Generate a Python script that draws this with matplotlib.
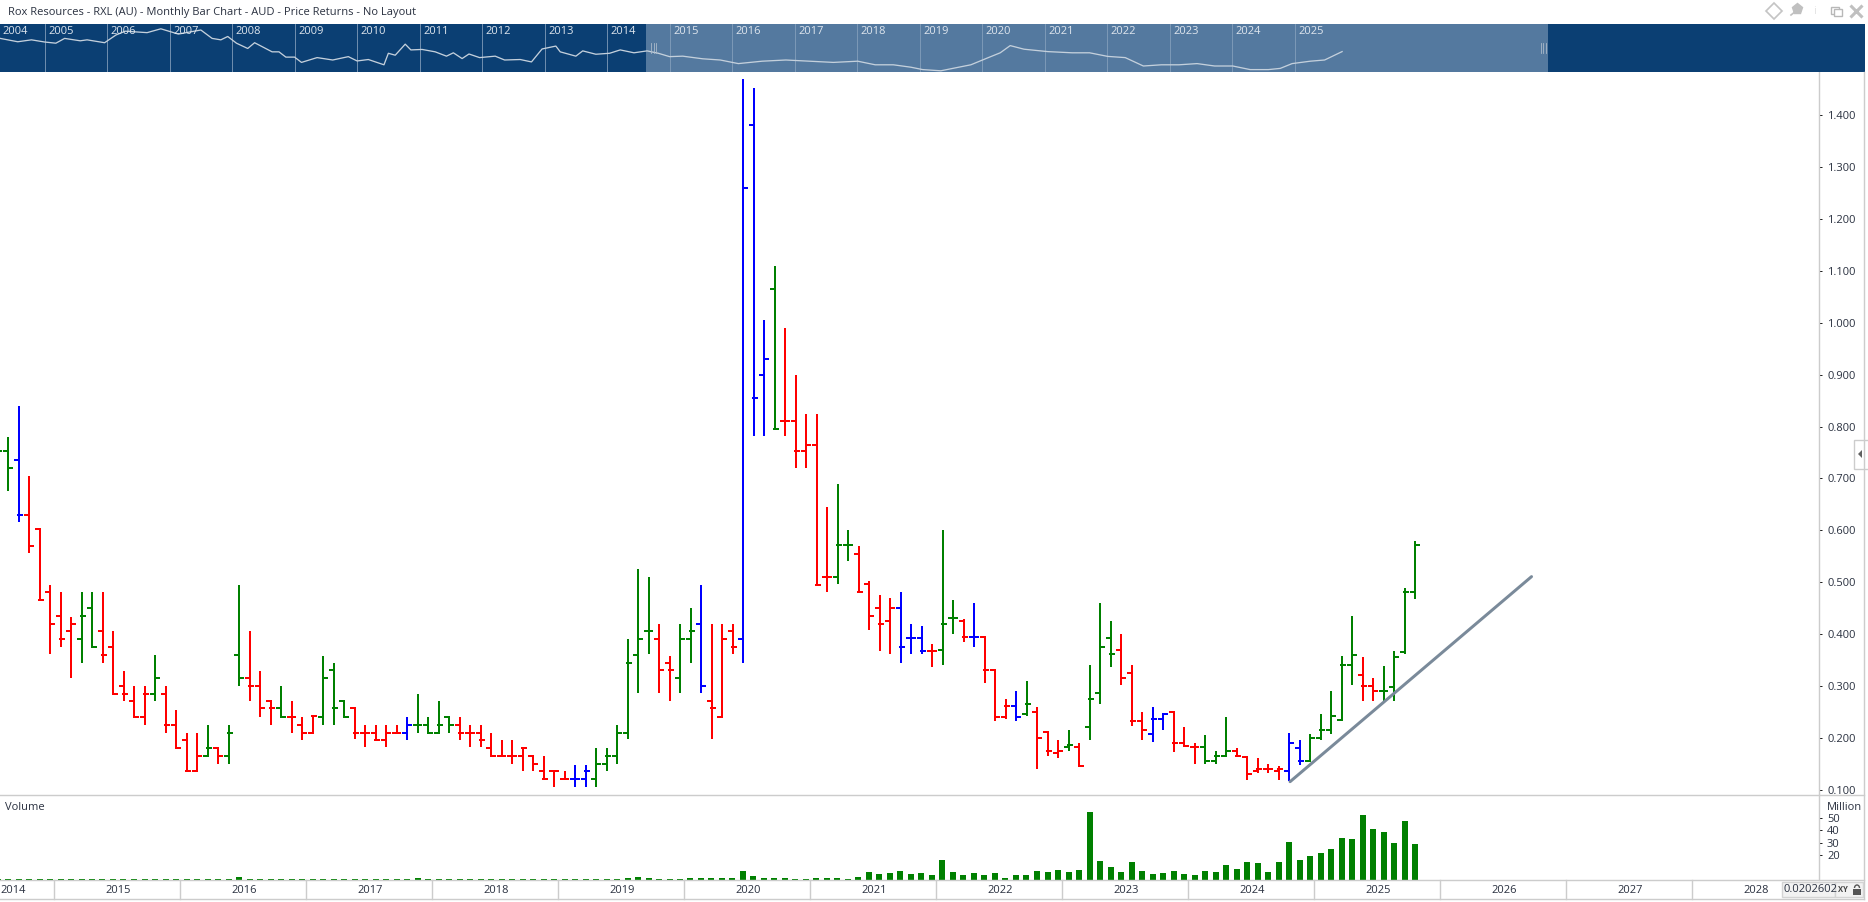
import matplotlib
matplotlib.use("Agg")
import matplotlib.pyplot as plt
from matplotlib.patches import Rectangle, Arc, Polygon
import numpy as np

plt.rcParams['font.family'] = ['Open Sans', 'DejaVu Sans']

TITLE = "Rox Resources - RXL (AU) - Monthly Bar Chart - AUD - Price Returns - No Layout"

# first visible stem is month index 0 (Aug 2014); index -1 only shows its close tick
opens = [.752,
 .752,.736,.630,.602,.481,.435,.406,.391,.450,.406,.376,.300,.271,.241,.285,.285,.226,.196,.137,.166,
 .181,.166,.360,.316,.300,.272,.257,.241,.226,.210,.241,.332,.272,.257,.210,.210,.196,.210,.210,.226,
 .226,.210,.241,.226,.210,.210,.181,.165,.165,.165,.165,.137,.137,.121,.121,.121,.121,.151,.165,.210,
 .360,.407,.391,.345,.316,.391,.420,.272,.241,.407,.391,1.380,.900,1.065,.811,.811,.752,.765,.511,.511,
 .571,.555,.496,.451,.426,.451,.392,.392,.367,.370,.432,.426,.395,.395,.332,.241,.261,.247,.251,.211,
 .172,.182,.182,.222,.286,.392,.370,.325,.232,.207,.236,.251,.191,.182,.182,.156,.166,.176,.163,.137,
 .141,.137,.137,.181,.156,.200,.216,.234,.341,.322,.300,.291,.298,.366,.482]
highs = [.780,
 .779,.840,.704,.602,.494,.481,.434,.481,.481,.481,.406,.330,.300,.300,.360,.300,.255,.210,.210,.225,
 .181,.225,.494,.406,.330,.272,.300,.271,.241,.242,.359,.344,.272,.257,.225,.225,.225,.225,.240,.284,
 .240,.271,.241,.240,.225,.225,.209,.196,.196,.181,.165,.165,.137,.137,.149,.149,.180,.180,.225,.390,
 .525,.510,.419,.359,.419,.450,.494,.419,.419,.419,1.4695,1.453,1.005,1.109,.989,.899,.824,.824,.645,.689,
 .600,.569,.502,.475,.469,.481,.419,.415,.381,.600,.465,.430,.460,.395,.332,.275,.290,.309,.259,.214,
 .196,.215,.190,.340,.460,.425,.400,.340,.250,.259,.249,.251,.221,.190,.205,.175,.240,.180,.164,.161,
 .150,.146,.209,.196,.207,.246,.290,.359,.435,.356,.315,.338,.367,.490,.579]
lows = [.700,
 .676,.617,.556,.466,.361,.376,.316,.345,.376,.345,.285,.272,.241,.226,.272,.210,.180,.135,.135,.166,
 .151,.151,.301,.272,.241,.226,.241,.210,.197,.210,.226,.226,.241,.198,.182,.196,.182,.210,.196,.210,
 .210,.210,.210,.196,.182,.182,.165,.165,.151,.137,.137,.121,.106,.121,.106,.106,.106,.137,.151,.198,
 .286,.361,.286,.272,.286,.345,.286,.198,.241,.361,.345,.781,.781,.795,.781,.721,.721,.495,.482,.496,
 .542,.481,.408,.367,.361,.345,.361,.361,.336,.341,.401,.386,.376,.307,.232,.236,.232,.242,.141,.166,
 .162,.176,.146,.197,.266,.336,.302,.223,.197,.192,.216,.173,.182,.151,.151,.151,.166,.163,.119,.132,
 .132,.119,.117,.148,.156,.197,.207,.234,.302,.272,.272,.270,.272,.361,.467]
closes = [.752,
 .721,.630,.570,.466,.420,.391,.420,.435,.376,.360,.285,.285,.241,.285,.316,.226,.180,.137,.166,.181,
 .166,.210,.316,.300,.257,.257,.241,.241,.210,.242,.316,.257,.241,.210,.210,.196,.210,.210,.226,.226,
 .210,.226,.226,.210,.210,.196,.165,.165,.165,.181,.151,.121,.137,.121,.121,.137,.151,.165,.210,.345,
 .391,.407,.332,.332,.391,.407,.300,.257,.391,.376,1.260,.855,.931,.796,.811,.752,.765,.495,.511,.571,
 .571,.481,.436,.420,.451,.376,.392,.367,.367,.420,.432,.395,.395,.332,.241,.261,.241,.266,.200,.176,
 .176,.186,.146,.276,.376,.361,.316,.232,.216,.236,.247,.191,.185,.182,.156,.166,.176,.166,.131,.141,
 .141,.141,.191,.156,.200,.216,.242,.341,.360,.300,.291,.291,.356,.481,.571]
bar_colours = ("g"
 "gbrrrrrggr" "rrrrgrrrrg" "rggrrrgrrr" "gggrrrrrbg" "gggrrrrrrr"
 "rrrrbbgggg" "ggrrggbrrr" "bbbgrrrrrg" "grrrrbbbrg" "grbrrrbgrr"
 "rgrgggrrrb" "brrrgggrrr" "rrbbgggggr" "rgggg")

volumes = [.8,
 .8,.8,.8,.8,.8,.8,.8,.8,.8,.8,.8,.8,.8,.8,.8,.8,.8,.8,.8,.8,
 .8,.8,2.4,.8,.8,.8,.8,.8,.8,.8,.8,.8,.8,.8,.8,.8,.8,.8,.8,1.5,
 .8,.8,.8,.8,.8,.8,.8,.8,.8,.8,.8,.8,.8,.8,.8,.8,.8,.8,.8,1.6,
 2.4,1.6,.8,.8,.8,1.6,1.6,1.6,1.6,1.6,7.3,3.2,1.6,1.6,1.6,.8,.8,1.6,1.6,1.6,
 .8,2.4,6.5,4.8,5.6,7.3,4.8,5.6,4.0,16.1,6.5,4.0,5.6,4.0,5.6,1.6,4.0,4.0,7.3,6.5,
 8.1,6.5,8.1,55.0,15.3,10.5,6.5,14.5,7.3,4.8,5.6,7.3,4.8,4.0,7.3,6.5,12.1,8.9,14.5,13.7,
 6.5,14.5,30.6,16.1,19.4,21.8,25.0,33.9,33.1,52.4,41.1,38.7,29.8,47.6,29.0]

trend_month = [122.1, 145.1]
trend_price = [0.116, 0.511]

overview_year = [2004.29,2004.57,2004.79,2005,2005.18,2005.32,2005.57,2005.68,2005.96,2006.14,2006.29,2006.64,
 2006.86,2007.14,2007.5,2007.68,2007.82,2007.93,2008.07,2008.25,2008.36,2008.64,2008.75,2008.86,2009,2009.11,
 2009.36,2009.61,2009.86,2010,2010.18,2010.43,2010.5,2010.61,2010.77,2010.86,2011.04,2011.25,2011.43,2011.54,
 2011.68,2011.79,2011.96,2012.21,2012.36,2012.61,2012.79,2012.96,2013.18,2013.25,2013.5,2013.61,2013.82,2014.04,
 2014.21,2014.43,2014.64,2014.82,2015,2015.21,2015.53,2015.81,2016.10,2016.48,2016.86,2017.24,2017.62,2018.01,
 2018.29,2018.58,2018.86,2019.05,2019.34,2019.53,2019.82,2020.10,2020.29,2020.45,2020.67,2021.05,2021.44,2021.72,
 2022.01,2022.29,2022.58,2022.87,2023.15,2023.44,2023.72,2024.01,2024.29,2024.58,2024.77,2024.96,2025.25,2025.48,2025.76]
overview_level = [.70,.63,.67,.625,.60,.70,.65,.67,.61,.77,.85,.82,.90,.79,.875,.70,.67,.74,.60,.49,.61,.42,.42,.31,
 .31,.20,.30,.25,.32,.23,.26,.15,.39,.35,.58,.46,.47,.42,.33,.40,.28,.375,.30,.33,.25,.26,.21,.48,.54,.42,.33,.44,
 .37,.39,.46,.40,.44,.39,.32,.33,.275,.25,.175,.225,.25,.225,.20,.225,.15,.15,.10,.05,.025,.075,.15,.30,.40,.55,.475,
 .425,.40,.40,.325,.30,.125,.15,.15,.175,.125,.125,.05,.05,.075,.175,.225,.25,.425]
overview_years = list(range(2005, 2026))

price_ticks = [0.1,0.2,0.3,0.4,0.5,0.6,0.7,0.8,0.9,1.0,1.1,1.2,1.3,1.4]
volume_ticks = [20,30,40,50]
date_years = list(range(2015, 2029))

W, H = 1868, 902
TXT = '#2a3140'
GRID = '#cccccc'
COL = {'g': '#008000', 'r': '#ff0000', 'b': '#0000ff'}
px = 72 / 100.0  # one pixel in points
FS = 8.0

def axpx(x0, y0, x1, y1, **kw):
    return fig.add_axes([x0 / W, 1 - y1 / H, (x1 - x0) / W, (y1 - y0) / H], **kw)

fig = plt.figure(figsize=(W / 100, H / 100), dpi=100, facecolor='white')

# month index <-> pixel: stems are 10.5 px apart, index 0 at x = 8
XL = (0 - 8) / 10.5
XR = (1819 - 8) / 10.5
n = len(opens)
m = np.arange(n, dtype=float) - 1
o, h, l, c = map(np.array, (opens, highs, lows, closes))

# ---- price pane
ax = axpx(0, 72, 1819, 795)
ax.set_xlim(XL, XR)
ax.set_ylim(0.1 - 5 / 519.2, 0.1 + 718 / 519.2)
tick = 0.476
for key, col in COL.items():
    idx = [i for i, s in enumerate(bar_colours) if s == key]
    xs = m[idx]
    ax.vlines(xs, l[idx], h[idx], colors=col, lw=2 * px, capstyle='butt')
    ax.hlines(o[idx], xs - tick, xs + 0.1, colors=col, lw=2 * px, capstyle='butt')
    ax.hlines(c[idx], xs - 0.1, xs + tick, colors=col, lw=2 * px, capstyle='butt')
ax.plot(trend_month, trend_price, color='#7a8a9a', lw=3 * px, solid_capstyle='round', zorder=5)
ax.set_yticks(price_ticks)
ax.set_yticklabels([f"{v:.3f}" for v in price_ticks])
ax.set_xticks([])

# ---- volume pane
vx = axpx(0, 795, 1819, 880)
vx.set_xlim(XL, XR)
vx.set_ylim(0, 85 / 1.24)
vx.bar(m, volumes, width=6 / 10.5, color='#008000', linewidth=0)
vx.set_yticks(volume_ticks)
vx.set_xticks([])

for a in (ax, vx):
    a.yaxis.tick_right()
    a.tick_params(axis='y', length=3 * px, width=1 * px, color='#222222', pad=5 * px,
                  labelsize=FS, labelcolor=TXT)
    for s in ('top', 'left', 'bottom'):
        a.spines[s].set_visible(False)
    a.spines['right'].set_color(GRID)
    a.spines['right'].set_linewidth(1.4 * px)

# ---- date strip
dx = axpx(0, 880, 1819, 899)
dx.set_xlim(XL, XR)
dx.set_ylim(0, 1)
dx.axis('off')
for k, y in enumerate(date_years):
    sep = 4.38 + 12 * k
    dx.plot([sep, sep], [0, 1], color=GRID, lw=1.4 * px, clip_on=False)
    dx.text(sep + 6.12, 0.46, str(y), ha='center', va='center', fontsize=FS, color=TXT)
dx.text(0.48, 0.46, '2014', ha='center', va='center', fontsize=FS, color=TXT)

# ---- overview band
ov = axpx(0, 24, 1865, 72)
ov.set_xlim(2005 + (0 - 44.6) / 62.5, 2005 + (1865 - 44.6) / 62.5)
ov.set_ylim(0, 1)
ov.axis('off')
ov.add_patch(Rectangle((0, 0), 1, 1, transform=ov.transAxes, color='#0b3f73', lw=0))
y0, y1 = 2005 + (646 - 44.6) / 62.5, 2005 + (1548 - 44.6) / 62.5
ov.axvspan(y0, y1, color='#54799f', lw=0, zorder=1)
for y in overview_years:
    ov.plot([y, y], [0, 1], color='#86a0bc', lw=0.8 * px, zorder=2)
ov.plot(overview_year, overview_level, color='#c4d0dc', lw=1.3 * px, zorder=3)
ov.text(2005 + (2 - 44.6) / 62.5, 0.84, '2004', color='#dfe6ee', fontsize=FS, va='center', ha='left', zorder=4)
for y in overview_years:
    ov.text(y + 3.4 / 62.5, 0.84, str(y), color='#dfe6ee', fontsize=FS, va='center', ha='left', zorder=4)
for base in (y0 + 5 / 62.5, y1 - 7 / 62.5):
    for d in (0, 2.5, 5):
        ov.plot([base + d / 62.5] * 2, [0.40, 0.60], color='#aebccb', lw=0.8 * px, zorder=4)

# ---- chrome in pixel coordinates
ui = fig.add_axes([0, 0, 1, 1], zorder=10)
ui.set_xlim(0, W)
ui.set_ylim(H, 0)
ui.axis('off')
ui.patch.set_alpha(0)
ui.text(8, 12, TITLE, fontsize=8.05, color=TXT, va='center', ha='left')
ui.plot([0, 1864], [795, 795], color=GRID, lw=1.4 * px)
ui.plot([0, 1864], [880, 880], color=GRID, lw=1.4 * px)
ui.plot([0, 1864], [899, 899], color=GRID, lw=1.4 * px)
ui.plot([1864, 1864], [72, 899], color=GRID, lw=1.4 * px)
ui.text(5, 808, 'Volume', fontsize=FS, color=TXT, va='center', ha='left')
ui.text(1827, 807, 'Million', fontsize=FS, color=TXT, va='center', ha='left')
# top right icons
ui.plot([1774], [11], marker='D', ms=8, mfc='white', mec='#c4c4c4', mew=1.2)
ui.plot([1791, 1796], [15, 11], color='#c0c0c0', lw=1.2)
ui.plot([1797], [9], marker='p', ms=8, color='#c0c0c0')
ui.text(1815, 11, 'i', fontsize=8, color='#e4e4e4', ha='center', va='center')
ui.add_patch(Rectangle((1831, 7), 8, 7, fc='white', ec='#b8b8b8', lw=1))
ui.add_patch(Rectangle((1834, 9), 8, 7, fc='white', ec='#b8b8b8', lw=1))
ui.plot([1856], [11], marker='x', ms=8, mew=2.2, color='#c0c0c0')
# side tab
ui.add_patch(Rectangle((1854, 440), 16, 29, fc='white', ec=GRID, lw=1))
ui.add_patch(Polygon([[1858, 454], [1862, 450], [1862, 458]], closed=True, fc='#606060', lw=0))
# bottom right readout
box = Rectangle((1782, 882), 53, 15, fc='#f2f2f2', ec='#d4d4d4', lw=1, zorder=3)
ui.add_patch(box)
t = ui.text(1784, 890, '0.0202602', fontsize=FS, color=TXT, va='center', ha='left', zorder=4)
t.set_clip_path(box)
ui.add_patch(Rectangle((1835, 882), 28, 15, fc='#f2f2f2', ec='#d4d4d4', lw=1, zorder=3))
ui.text(1843, 889.5, 'XY', fontsize=5.5, fontweight='bold', color='#444444', va='center', ha='center', zorder=4)
ui.add_patch(Rectangle((1853, 889), 8, 6, fc='#555555', lw=0, zorder=4))
ui.add_patch(Arc((1857, 888), 5, 6, theta1=180, theta2=360, ec='#555555', lw=1, zorder=4))

fig.savefig('out.png', dpi=100, facecolor='white')
